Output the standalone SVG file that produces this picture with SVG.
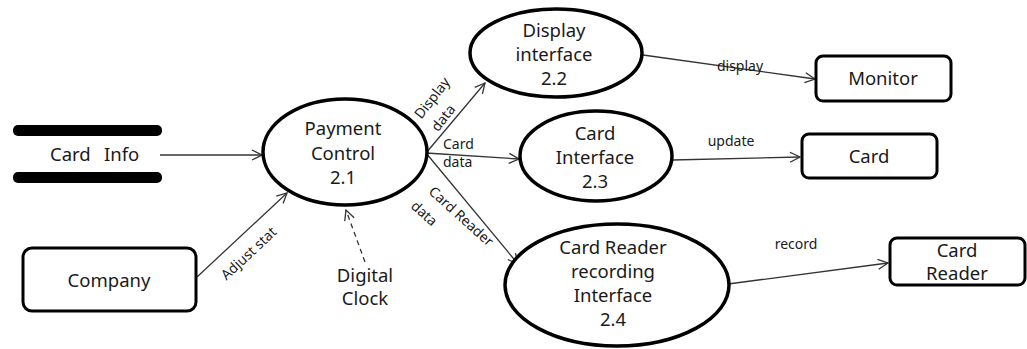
<svg xmlns="http://www.w3.org/2000/svg" width="1027" height="349" viewBox="0 0 1027 349">
<defs>
<style>
.proc{fill:#fff;stroke:#000;stroke-width:3.5}
.ext{fill:#fff;stroke:#000;stroke-width:3}
.bar{fill:#000}
.lbl{font-family:"Noto Sans","Open Sans",sans-serif;font-size:18.5px;fill:#1a1a1a;text-anchor:middle}
.sm{font-family:"Noto Sans","Open Sans",sans-serif;font-size:14px;fill:#1a1a1a;text-anchor:middle}
.flow{stroke:#333;stroke-width:1.3;fill:none;marker-end:url(#arr)}
.dash{stroke:#333;stroke-width:1.3;fill:none;stroke-dasharray:5 4;marker-end:url(#arr)}
</style>
<marker id="arr" viewBox="0 0 12 12" refX="11" refY="6" markerWidth="12" markerHeight="12" markerUnits="userSpaceOnUse" orient="auto">
<path d="M1,1 L11,6 L1,11" fill="none" stroke="#333" stroke-width="1.3"/>
</marker>
</defs>
<rect width="1027" height="349" fill="#fff"/>

<g id="connectors">
<line class="flow" x1="160" y1="155" x2="262" y2="155"/>
<line class="flow" x1="197" y1="277" x2="287" y2="193"/>
<line class="dash" x1="365" y1="262" x2="346" y2="210"/>
<line class="flow" x1="426" y1="153" x2="485" y2="83"/>
<line class="flow" x1="426" y1="153" x2="519" y2="159"/>
<line class="flow" x1="426" y1="153" x2="518" y2="264"/>
<line class="flow" x1="643" y1="55" x2="815" y2="79"/>
<line class="flow" x1="672" y1="160" x2="800" y2="157"/>
<line class="flow" x1="728" y1="284" x2="888" y2="263"/>
<text class="sm" transform="translate(252,257) rotate(-43)">Adjust stat</text>
<text class="sm" transform="translate(436,101) rotate(-52)">Display</text>
<text class="sm" transform="translate(447,121) rotate(-52)">data</text>
<text class="sm" style="text-anchor:start" x="443" y="149">Card</text>
<text class="sm" style="text-anchor:start" x="443" y="167">data</text>
<text class="sm" transform="translate(458,220) rotate(42)">Card Reader</text>
<text class="sm" transform="translate(421,217) rotate(42)">data</text>
<text class="sm" x="740" y="71">display</text>
<text class="sm" x="731" y="146">update</text>
<text class="sm" x="796" y="249">record</text>
</g>

<g id="card-info">
<rect class="bar" x="13" y="125" width="149" height="11" rx="5"/>
<rect class="bar" x="13" y="172" width="149" height="11" rx="5"/>
<text class="lbl" style="text-anchor:start" x="50" y="161">Card</text>
<text class="lbl" style="text-anchor:start" x="104" y="161">Info</text>
</g>

<g id="company">
<rect class="ext" x="23" y="248" width="173" height="63" rx="9"/>
<text class="lbl" x="109" y="287">Company</text>
</g>

<g id="payment-control">
<ellipse class="proc" cx="345" cy="152" rx="82" ry="53"/>
<text class="lbl" x="343" y="135">Payment</text>
<text class="lbl" x="343" y="160">Control</text>
<text class="lbl" x="343" y="184">2.1</text>
</g>

<g id="digital-clock">
<text class="lbl" x="365" y="282">Digital</text>
<text class="lbl" x="365" y="305">Clock</text>
</g>

<g id="display-interface">
<ellipse class="proc" cx="556" cy="53" rx="86" ry="44"/>
<text class="lbl" x="554" y="37">Display</text>
<text class="lbl" x="554" y="61">interface</text>
<text class="lbl" x="554" y="85">2.2</text>
</g>

<g id="card-interface">
<ellipse class="proc" cx="596" cy="156" rx="76" ry="45"/>
<text class="lbl" x="595" y="140">Card</text>
<text class="lbl" x="595" y="164">Interface</text>
<text class="lbl" x="595" y="188">2.3</text>
</g>

<g id="card-reader-interface">
<ellipse class="proc" cx="617" cy="285" rx="112" ry="61"/>
<text class="lbl" x="613" y="254">Card Reader</text>
<text class="lbl" x="613" y="278">recording</text>
<text class="lbl" x="613" y="302">Interface</text>
<text class="lbl" x="613" y="326">2.4</text>
</g>

<g id="monitor">
<rect class="ext" x="816" y="56" width="135" height="45" rx="7"/>
<text class="lbl" x="883" y="85">Monitor</text>
</g>

<g id="card">
<rect class="ext" x="802" y="134" width="135" height="44" rx="7"/>
<text class="lbl" x="869" y="163">Card</text>
</g>

<g id="card-reader">
<rect class="ext" x="890" y="238" width="135" height="47" rx="7"/>
<text class="lbl" x="957" y="257">Card</text>
<text class="lbl" x="957" y="280">Reader</text>
</g>
</svg>
